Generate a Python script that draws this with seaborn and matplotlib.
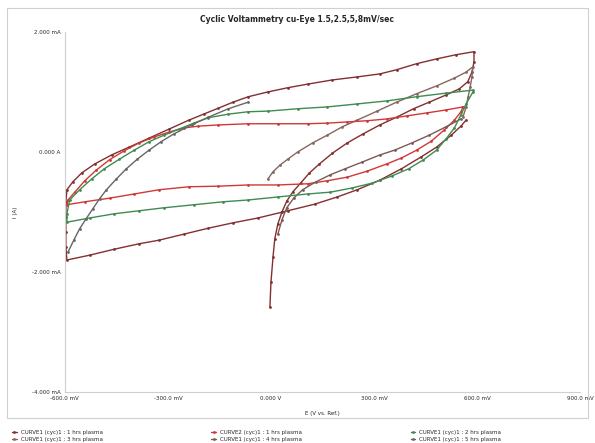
import matplotlib
matplotlib.use("Agg")
import matplotlib.pyplot as plt
from matplotlib.patches import Rectangle
import pandas as pd
import seaborn as sns

# Potential (V vs. Ref.) and current (mA) for each recorded trace
e_c1 = [-0.003, 0.000, 0.006, 0.011, 0.020, 0.032, 0.046, 0.063, 0.086, 0.112, 0.141, 0.179, 0.222, 0.268,
        0.317, 0.366, 0.415, 0.461, 0.510, 0.548, 0.573, 0.585, 0.591, 0.591,
        0.539, 0.482, 0.424, 0.366, 0.317, 0.251, 0.179, 0.107, 0.049, -0.009, -0.066, -0.110, -0.153,
        -0.196, -0.239, -0.297, -0.355, -0.413, -0.464, -0.513, -0.551, -0.577, -0.594,
        -0.597, -0.597, -0.597, -0.597, -0.594,
        -0.528, -0.456, -0.384, -0.326, -0.254, -0.182, -0.110, -0.038, 0.049, 0.127, 0.193, 0.251,
        0.317, 0.380, 0.438, 0.482, 0.525, 0.553, 0.568]
i_c1 = [-2.58, -2.17, -1.75, -1.45, -1.20, -1.00, -0.82, -0.67, -0.52, -0.35, -0.20, -0.02, 0.15, 0.30,
        0.45, 0.58, 0.72, 0.83, 0.95, 1.05, 1.17, 1.33, 1.50, 1.67,
        1.62, 1.55, 1.47, 1.37, 1.30, 1.25, 1.20, 1.13, 1.07, 1.00, 0.92, 0.83, 0.73,
        0.63, 0.53, 0.38, 0.23, 0.08, -0.05, -0.20, -0.35, -0.50, -0.63,
        -0.83, -1.08, -1.33, -1.58, -1.80,
        -1.72, -1.62, -1.53, -1.47, -1.37, -1.27, -1.18, -1.10, -0.98, -0.87, -0.75, -0.63,
        -0.47, -0.28, -0.08, 0.08, 0.28, 0.43, 0.53]

e_c2 = [0.559, 0.510, 0.453, 0.395, 0.337, 0.280, 0.222, 0.164, 0.107, 0.020, -0.066, -0.153, -0.211,
        -0.254, -0.297, -0.340, -0.384, -0.427, -0.470, -0.508, -0.542, -0.571, -0.591,
        -0.594, -0.542, -0.470, -0.398, -0.326, -0.239, -0.153, -0.066, 0.020, 0.107, 0.164, 0.222,
        0.280, 0.337, 0.380, 0.424, 0.467, 0.505, 0.534, 0.553, 0.559]
i_c2 = [0.75, 0.70, 0.65, 0.60, 0.55, 0.52, 0.50, 0.48, 0.47, 0.47, 0.47, 0.45, 0.43,
        0.40, 0.33, 0.25, 0.15, 0.02, -0.13, -0.30, -0.48, -0.67, -0.80,
        -0.88, -0.83, -0.77, -0.70, -0.63, -0.58, -0.57, -0.55, -0.55, -0.53, -0.48, -0.42,
        -0.32, -0.20, -0.10, 0.03, 0.18, 0.37, 0.53, 0.67, 0.75]

e_c3 = [0.588, 0.510, 0.424, 0.337, 0.251, 0.164, 0.078, -0.009, -0.066, -0.124, -0.182, -0.225,
        -0.268, -0.311, -0.355, -0.398, -0.441, -0.485, -0.522, -0.557, -0.586,
        -0.594, -0.594, -0.528, -0.456, -0.384, -0.311, -0.225, -0.139, -0.066, 0.020, 0.107, 0.173,
        0.236, 0.294, 0.352, 0.401, 0.444, 0.482, 0.510, 0.534, 0.553, 0.568, 0.588]
i_c3 = [1.03, 0.98, 0.92, 0.85, 0.80, 0.75, 0.72, 0.68, 0.67, 0.63, 0.57, 0.48,
        0.38, 0.28, 0.17, 0.03, -0.12, -0.28, -0.45, -0.63, -0.80,
        -1.03, -1.17, -1.10, -1.03, -0.98, -0.93, -0.88, -0.83, -0.80, -0.75, -0.70, -0.67,
        -0.60, -0.52, -0.40, -0.28, -0.13, 0.03, 0.22, 0.40, 0.62, 0.80, 1.00]

e_c4 = [-0.009, 0.006, 0.026, 0.049, 0.078, 0.121, 0.164, 0.208, 0.251, 0.309, 0.366, 0.424, 0.482,
        0.534, 0.568, 0.588, 0.585, 0.580, 0.574, 0.568, 0.559]
i_c4 = [-0.45, -0.33, -0.22, -0.12, 0.00, 0.15, 0.28, 0.42, 0.53, 0.68, 0.83, 0.97, 1.10,
        1.23, 1.33, 1.42, 1.25, 1.08, 0.92, 0.75, 0.58]

e_c5 = [0.553, 0.510, 0.461, 0.410, 0.360, 0.317, 0.265, 0.216, 0.173, 0.130, 0.092, 0.066, 0.046,
        0.032, 0.020]
i_c5 = [0.55, 0.42, 0.28, 0.15, 0.03, -0.05, -0.17, -0.28, -0.38, -0.50, -0.63, -0.77, -0.93,
        -1.13, -1.37]

e_c6 = [-0.591, -0.574, -0.557, -0.539, -0.519, -0.499, -0.479, -0.450, -0.421, -0.389, -0.355,
        -0.320, -0.283, -0.231, -0.182, -0.124, -0.066]
i_c6 = [-1.67, -1.47, -1.28, -1.12, -0.95, -0.78, -0.63, -0.45, -0.28, -0.12, 0.03,
        0.17, 0.30, 0.45, 0.58, 0.72, 0.83]

labels = ["CURVE1 (cyc)1 : 1 hrs plasma", "CURVE1 (cyc)1 : 3 hrs plasma",
          "CURVE2 (cyc)1 : 1 hrs plasma", "CURVE1 (cyc)1 : 4 hrs plasma",
          "CURVE1 (cyc)1 : 2 hrs plasma", "CURVE1 (cyc)1 : 5 hrs plasma"]
colors = ["#83302f", "#86675f", "#d03838", "#7a5a55", "#3e8c52", "#666666"]

x_ticks = [-0.6, -0.3, 0.0, 0.3, 0.6, 0.9]
x_ticklabels = ["-600.0 mV", "-300.0 mV", "0.000 V", "300.0 mV", "600.0 mV", "900.0 mV"]
y_ticks = [-4, -2, 0, 2]
y_ticklabels = ["-4.000 mA", "-2.000 mA", "0.000 A", "2.000 mA"]

title = "Cyclic Voltammetry cu-Eye 1.5,2.5,5,8mV/sec"

order = [(e_c1, i_c1), (e_c4, i_c4), (e_c2, i_c2), (e_c5, i_c5), (e_c3, i_c3), (e_c6, i_c6)]
frames = []
for lab, (e, i) in zip(labels, order):
    frames.append(pd.DataFrame({"E": e, "I": i, "trace": lab}))
df = pd.concat(frames, ignore_index=True)

sns.set_style("white")
plt.rcParams["font.family"] = ["DejaVu Sans"]

fig = plt.figure(figsize=(5.95, 4.43), dpi=100)
ax = fig.add_axes([0.109, 0.115, 0.866, 0.813])

for lab, col in zip(labels, colors):
    sub = df[df["trace"] == lab]
    sns.lineplot(data=sub, x="E", y="I", sort=False, estimator=None, ax=ax,
                 color=col, linewidth=1.0, marker="o", markersize=2.0,
                 markeredgewidth=0, label=lab)

ax.set_xlim(-0.6, 0.9)
ax.set_ylim(-4, 2)
ax.set_xticks(x_ticks)
ax.set_xticklabels(x_ticklabels, fontsize=4)
ax.set_yticks(y_ticks)
ax.set_yticklabels(y_ticklabels, fontsize=4)
ax.tick_params(length=0, pad=3)
ax.set_xlabel("E (V vs. Ref.)", fontsize=4, labelpad=7)
ax.set_ylabel("I (A)", fontsize=4)
ax.yaxis.set_label_coords(-0.09, 0.5)
for side in ["top", "right"]:
    ax.spines[side].set_visible(False)
for side in ["left", "bottom"]:
    ax.spines[side].set_color("#cfcfcf")
    ax.spines[side].set_linewidth(0.8)

fig.text(0.5, 0.957, title, ha="center", va="center", fontsize=5.5, fontweight="bold")

ax.legend_.remove()
handles, hl = ax.get_legend_handles_labels()
fig.legend(handles, hl, loc="lower left", ncol=3, fontsize=4, frameon=False,
           bbox_to_anchor=(0.012, -0.008), columnspacing=19.5, handlelength=0.8,
           handletextpad=0.8, labelspacing=0.35)

fig.add_artist(Rectangle((0.012, 0.057), 0.976, 0.925, transform=fig.transFigure,
                         fill=False, edgecolor="#d0d0d0", linewidth=0.8))

fig.savefig("out.png", dpi=100)
